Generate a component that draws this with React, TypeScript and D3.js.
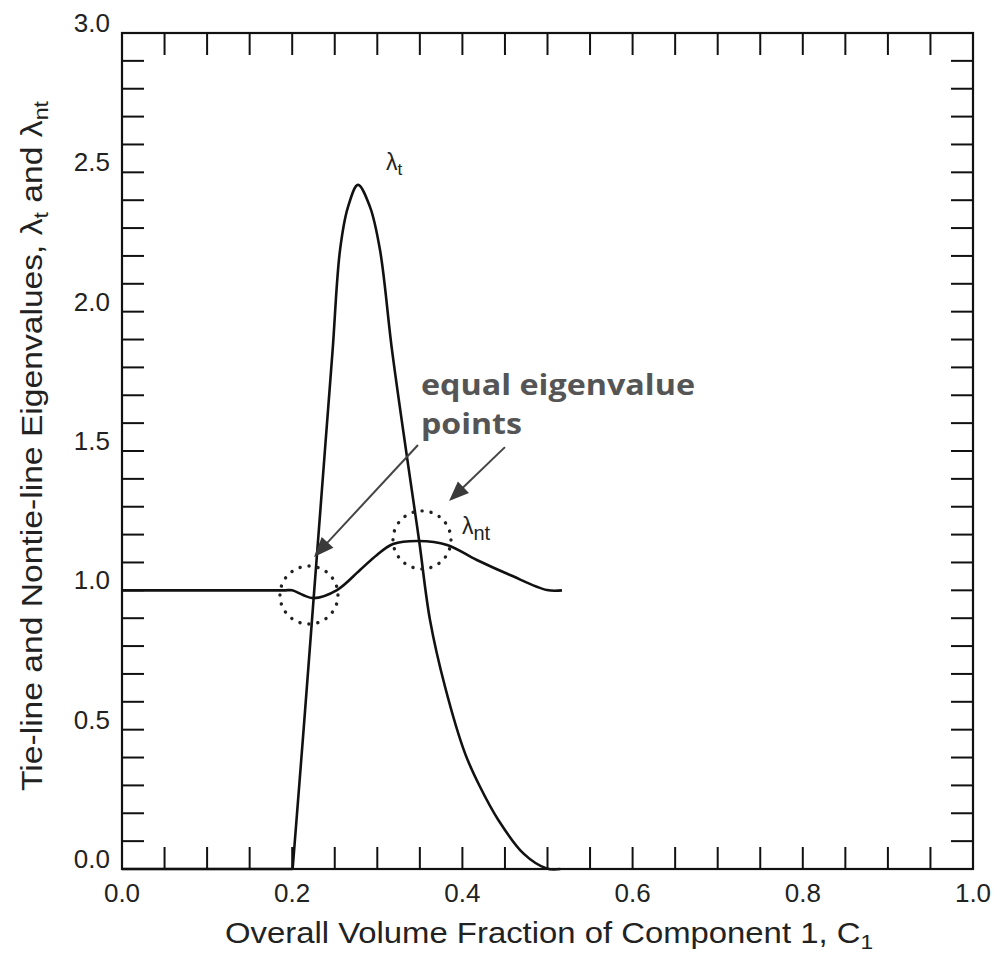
import React from "react";
import * as d3 from "d3";

// Overall volume fraction of component 1 (C1) sample points and eigenvalues
const tieX = [0, 0.2005, 0.2134, 0.2259, 0.2384, 0.2475, 0.2562, 0.2656, 0.2773, 0.2914, 0.3032, 0.3173, 0.3349, 0.3492, 0.3619, 0.3796, 0.4031, 0.4207, 0.4422, 0.4716, 0.499, 0.515];
const tieLambda = [0, 0, 0.5, 1.0, 1.5, 1.862, 2.221, 2.376, 2.455, 2.376, 2.221, 1.862, 1.478, 1.177, 0.894, 0.654, 0.415, 0.295, 0.176, 0.056, 0.002, 0];

const nontieX = [0, 0.19, 0.2, 0.2127, 0.225, 0.2526, 0.2797, 0.2996, 0.3185, 0.348, 0.382, 0.417, 0.456, 0.4994, 0.517];
const nontieLambda = [1.0, 1.0, 1.0, 0.983, 0.972, 1.001, 1.073, 1.127, 1.166, 1.177, 1.163, 1.109, 1.055, 1.001, 1.0];

const xTickLabels = [0, 0.2, 0.4, 0.6, 0.8, 1.0];
const yTickLabels = [0, 0.5, 1.0, 1.5, 2.0, 2.5, 3.0];
const xMinorStep = 0.05;
const yMinorStep = 0.1;

// Equal eigenvalue points (circled) and the arrows pointing at them
const equalPoints = [
  { c1: 0.2197, lambda: 0.983 },
  { c1: 0.3525, lambda: 1.181 },
];
const arrows = [
  { fromC1: 0.3478, fromL: 1.5215, toC1: 0.2256, toL: 1.1194 },
  { fromC1: 0.45, fromL: 1.514, toC1: 0.3843, toL: 1.3205 },
];

const W = 1000;
const H = 955;
const left = 122;
const right = 973;
const top = 33;
const bottom = 869;

function arrowHead(x1: number, y1: number, x2: number, y2: number, len: number, half: number) {
  const dx = x2 - x1;
  const dy = y2 - y1;
  const d = Math.hypot(dx, dy);
  const ux = dx / d;
  const uy = dy / d;
  const bx = x2 - ux * len;
  const by = y2 - uy * len;
  const px = -uy * half;
  const py = ux * half;
  return {
    points: `${x2},${y2} ${bx + px},${by + py} ${bx - px},${by - py}`,
    baseX: bx + ux * 2,
    baseY: by + uy * 2,
  };
}

export default function App() {
  const x = d3.scaleLinear().domain([0, 1]).range([left, right]);
  const y = d3.scaleLinear().domain([0, 3]).range([bottom, top]);

  const smooth = d3
    .line<[number, number]>()
    .x((d) => x(d[0]))
    .y((d) => y(d[1]))
    .curve(d3.curveCatmullRom.alpha(0.5));
  const straight = d3
    .line<[number, number]>()
    .x((d) => x(d[0]))
    .y((d) => y(d[1]));

  const tiePts = tieX.map((v, i) => [v, tieLambda[i]] as [number, number]);
  // flat zero stretch before the rise is straight; the rise onward is smooth
  const tieFlatPath = straight(tiePts.slice(0, 2)) || "";
  const tieCurvePath = smooth(tiePts.slice(1)) || "";
  const nontiePath = smooth(nontieX.map((v, i) => [v, nontieLambda[i]] as [number, number])) || "";

  const xMinor = d3.range(0, 1 + 1e-9, xMinorStep);
  const yMinor = d3.range(0, 3 + 1e-9, yMinorStep);
  const tickLen = 22;

  const axisFont = "'Liberation Sans', Arial, Helvetica, sans-serif";
  const fmt = d3.format(".1f");

  return (
    <svg
      width={W}
      height={H}
      viewBox={`0 0 ${W} ${H}`}
      style={{ position: "absolute", left: 0, top: 0, background: "#fff" }}
    >
      {/* inward ticks on all four sides */}
      <g stroke="#111" strokeWidth={2}>
        {xMinor.map((v, i) => (
          <g key={`xt${i}`}>
            <line x1={x(v)} x2={x(v)} y1={bottom} y2={bottom - tickLen} />
            <line x1={x(v)} x2={x(v)} y1={top} y2={top + tickLen} />
          </g>
        ))}
        {yMinor.map((v, i) => (
          <g key={`yt${i}`}>
            <line x1={left} x2={left + tickLen} y1={y(v)} y2={y(v)} />
            <line x1={right} x2={right - tickLen} y1={y(v)} y2={y(v)} />
          </g>
        ))}
      </g>

      {/* plot frame */}
      <rect
        x={left}
        y={top}
        width={right - left}
        height={bottom - top}
        fill="none"
        stroke="#111"
        strokeWidth={2.2}
      />

      {/* tick labels */}
      <g fontFamily={axisFont} fontSize={26} fill="#222">
        {xTickLabels.map((v) => (
          <text key={`xl${v}`} x={x(v)} y={902} textAnchor="middle">
            {fmt(v)}
          </text>
        ))}
        {yTickLabels.map((v) => (
          <text key={`yl${v}`} x={110} y={y(v) - 1} textAnchor="end">
            {fmt(v)}
          </text>
        ))}
      </g>

      {/* axis titles */}
      <text
        x={225}
        y={943}
        fontFamily={axisFont}
        fontSize={29}
        fill="#222"
        textLength={648}
        lengthAdjust="spacingAndGlyphs"
      >
        Overall Volume Fraction of Component 1, C
        <tspan fontSize={20} dy={6}>1</tspan>
      </text>
      <text
        transform={`translate(42, ${446}) rotate(-90)`}
        textAnchor="middle"
        fontFamily={axisFont}
        fontSize={29}
        fill="#222"
        textLength={690}
        lengthAdjust="spacingAndGlyphs"
      >
        Tie-line and Nontie-line Eigenvalues, λ
        <tspan fontSize={20} dy={6}>t</tspan>
        <tspan dy={-6}> and λ</tspan>
        <tspan fontSize={20} dy={6}>nt</tspan>
      </text>

      {/* eigenvalue curves */}
      <path d={tieFlatPath} fill="none" stroke="#111" strokeWidth={2.6} />
      <path d={tieCurvePath} fill="none" stroke="#111" strokeWidth={2.6} strokeLinejoin="round" />
      <path d={nontiePath} fill="none" stroke="#111" strokeWidth={2.6} strokeLinejoin="round" />

      {/* curve labels */}
      <text x={386} y={170} fontFamily={axisFont} fontSize={23} fill="#222">
        λ<tspan fontSize={17} dy={5}>t</tspan>
      </text>
      <text x={462} y={534} fontFamily={axisFont} fontSize={23} fill="#222">
        λ<tspan fontSize={20} dy={6}>nt</tspan>
      </text>

      {/* equal eigenvalue points */}
      {equalPoints.map((p, i) => (
        <circle
          key={`c${i}`}
          cx={x(p.c1)}
          cy={y(p.lambda)}
          r={29}
          fill="none"
          stroke="#222"
          strokeWidth={3.4}
          strokeDasharray="0.1 9"
          strokeLinecap="round"
        />
      ))}
      {arrows.map((a, i) => {
        const x1 = x(a.fromC1);
        const y1 = y(a.fromL);
        const x2 = x(a.toC1);
        const y2 = y(a.toL);
        const h = arrowHead(x1, y1, x2, y2, 20, 8);
        return (
          <g key={`a${i}`}>
            <line x1={x1} y1={y1} x2={h.baseX} y2={h.baseY} stroke="#444" strokeWidth={2} />
            <polygon points={h.points} fill="#3a3a3a" />
          </g>
        );
      })}
      <g fontFamily="'Open Sans', 'DejaVu Sans', sans-serif" fontWeight="bold" fontSize={28} fill="#555">
        <text x={421} y={395} textLength={274} lengthAdjust="spacingAndGlyphs">
          equal eigenvalue
        </text>
        <text x={421} y={434} textLength={101} lengthAdjust="spacingAndGlyphs">
          points
        </text>
      </g>
    </svg>
  );
}
